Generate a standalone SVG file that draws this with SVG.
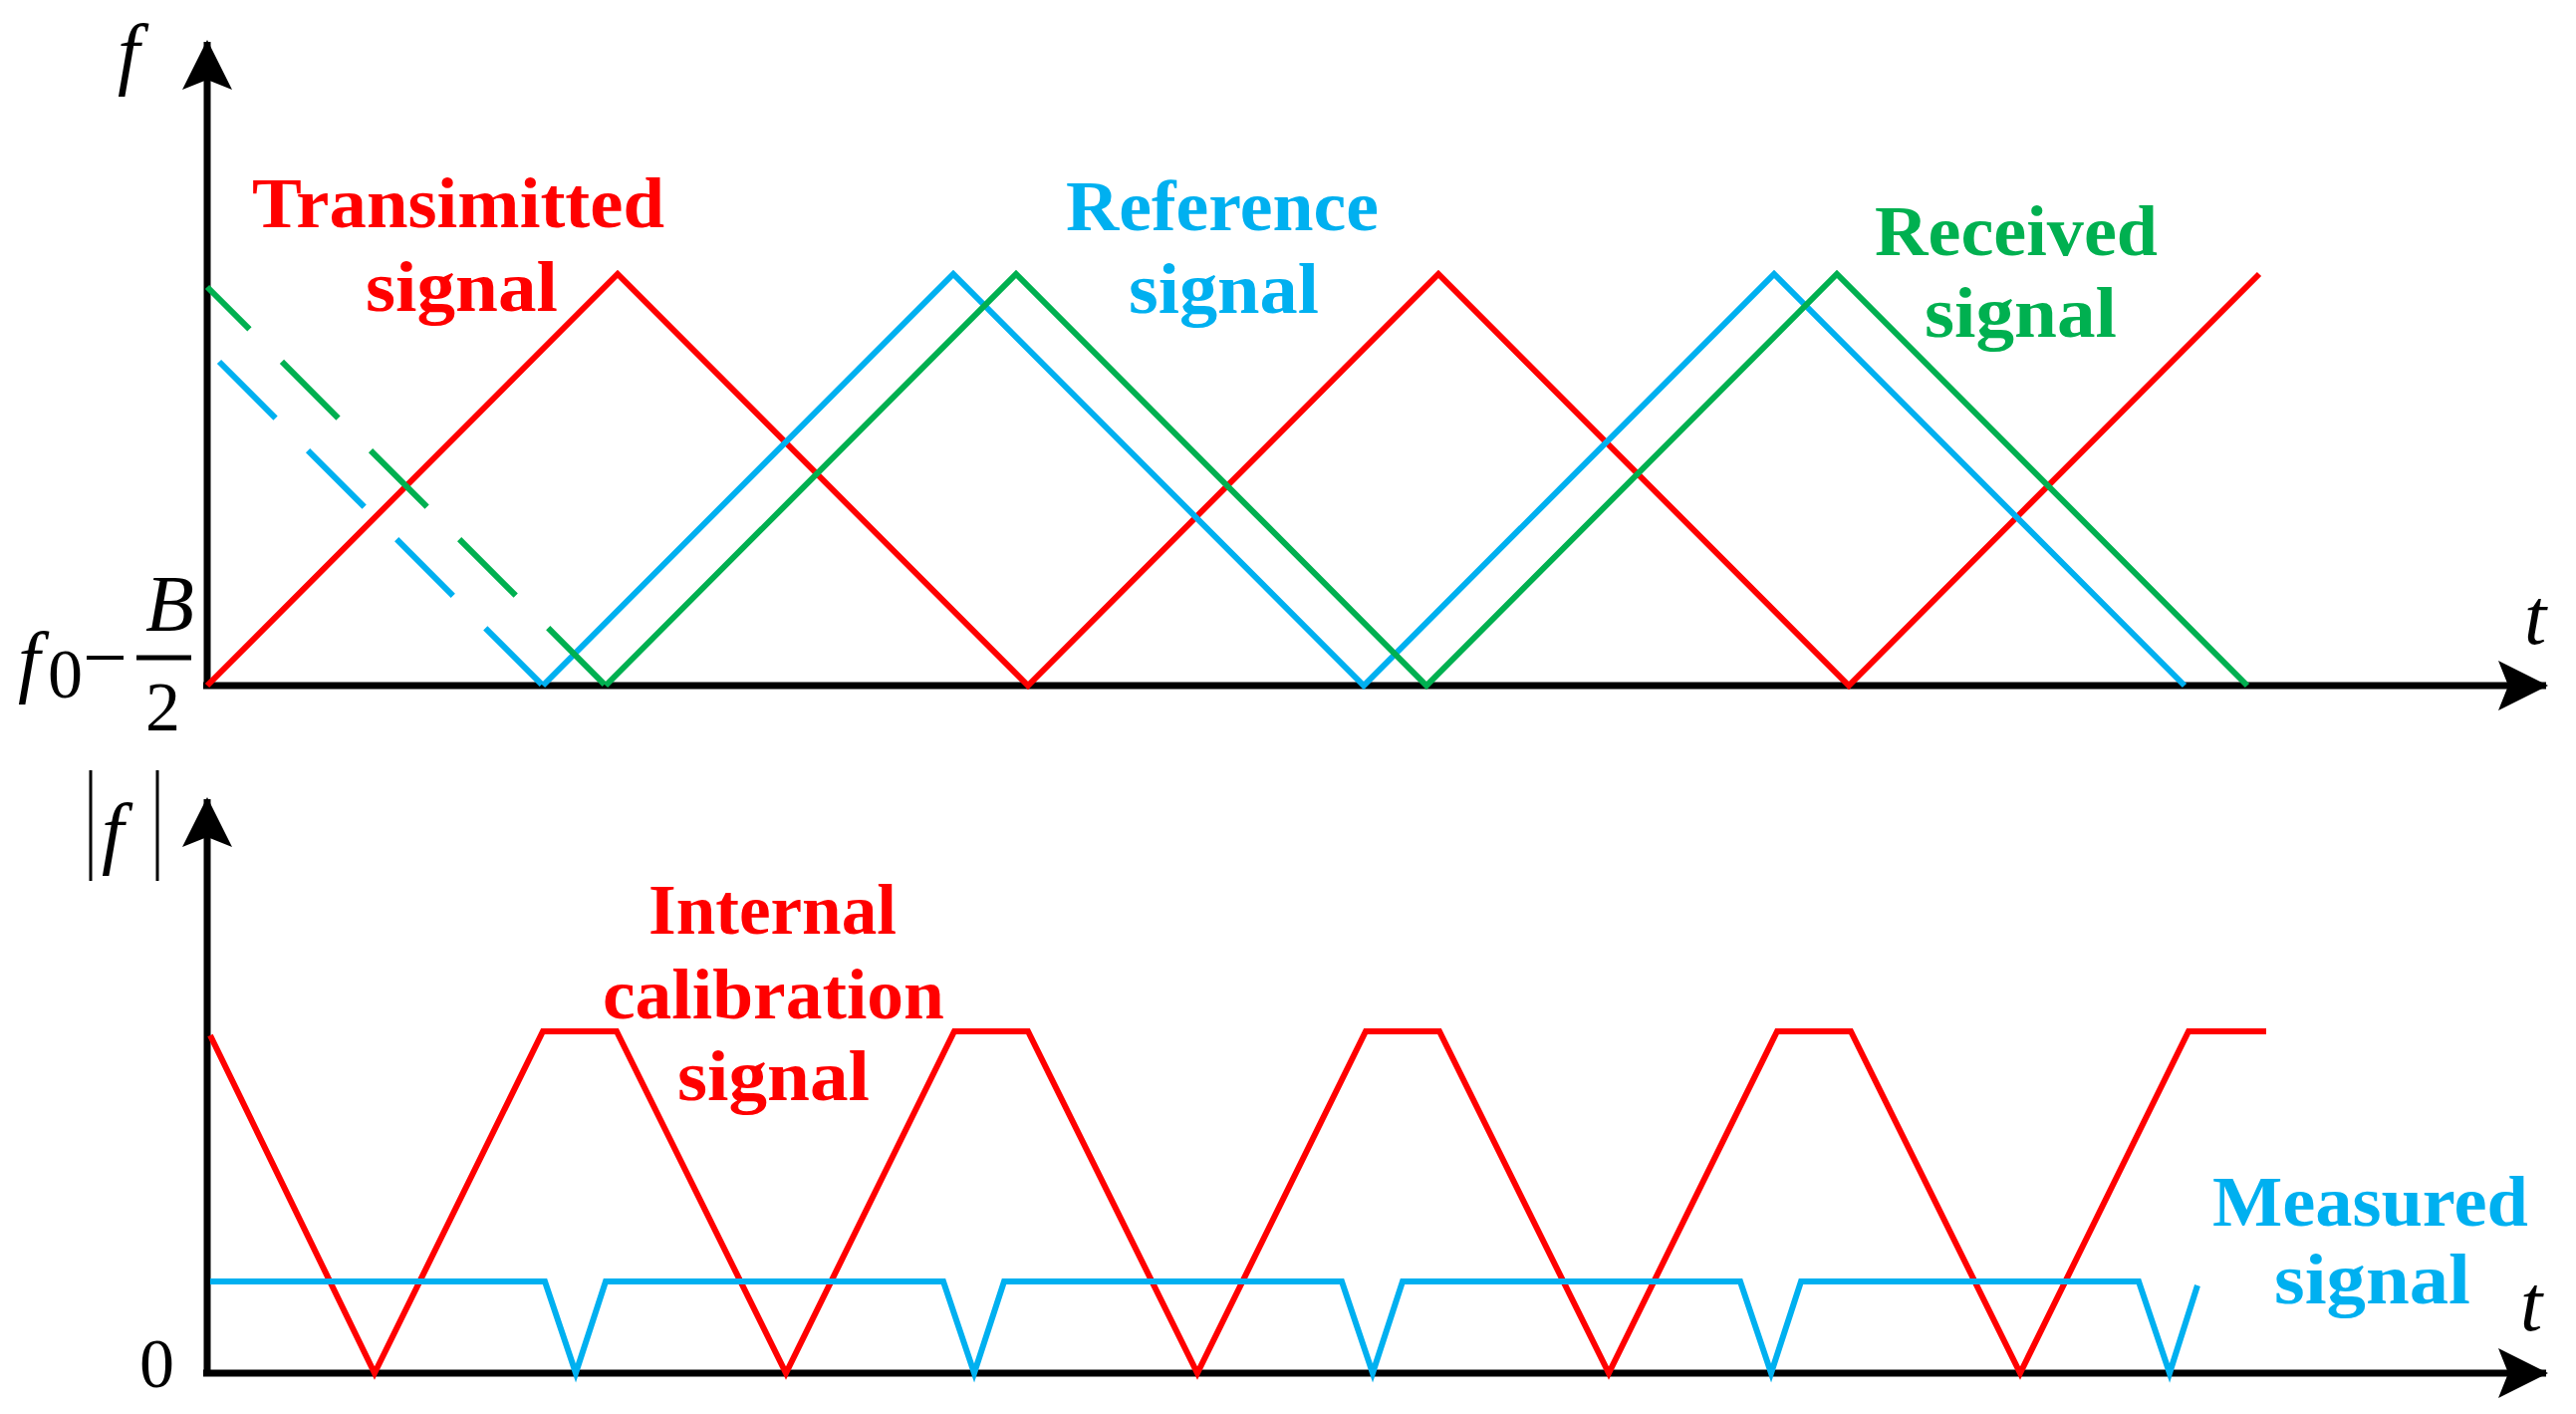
<svg xmlns="http://www.w3.org/2000/svg" width="2586" height="1419" viewBox="0 0 2586 1419">
<style>
.ax{stroke:#000;stroke-width:7;fill:none}
.s{fill:none;stroke-width:6;stroke-linejoin:miter}
.r{stroke:#ff0000}.b{stroke:#00b0f0}.g{stroke:#00b050}
.lbl{font-family:"Liberation Serif",serif;font-weight:bold;font-size:72px}
.m{font-family:"Liberation Serif",serif;font-style:italic;font-size:80px}
.n{font-family:"Liberation Serif",serif;font-size:70px}
</style>
<defs>
<marker id="ah" viewBox="0 0 50 50" refX="48" refY="25" markerWidth="50" markerHeight="50" markerUnits="userSpaceOnUse" orient="auto">
<path d="M0,0 L50,25 L0,50 L10,25 Z" fill="#000"/>
</marker>
</defs>
<g id="axes">
<line class="ax" x1="208" y1="690" x2="208" y2="42" marker-end="url(#ah)"/>
<line class="ax" x1="204" y1="688" x2="2556" y2="688" marker-end="url(#ah)"/>
<line class="ax" x1="208" y1="1381" x2="208" y2="802" marker-end="url(#ah)"/>
<line class="ax" x1="204" y1="1378" x2="2556" y2="1378" marker-end="url(#ah)"/>
</g>
<g id="connectors">
<polyline class="s r" points="208,688 620,275 1032,688 1444,275 1856,688 2268,275"/>
<line class="s b" x1="220" y1="363" x2="545" y2="688" stroke-dasharray="80 46"/>
<polyline class="s b" points="545,688 957,275 1369,688 1781,275 2193,688"/>
<line class="s g" x1="208" y1="288" x2="608" y2="688" stroke-dasharray="80 46" stroke-dashoffset="20"/>
<polyline class="s g" points="608,688 1020,275 1432,688 1844,275 2256,688"/>
<polyline class="s r" points="211,1039 376,1378 545,1035 619,1035 789,1378 958,1035 1032,1035 1202,1378 1371,1035 1445,1035 1615,1378 1784,1035 1858,1035 2028,1378 2197,1035 2275,1035"/>
<polyline class="s b" points="211,1286 547,1286 578,1378 608,1286 947,1286 978,1378 1008,1286 1347,1286 1378,1378 1408,1286 1747,1286 1778,1378 1808,1286 2147,1286 2178,1378 2206,1290"/>
</g>
<g id="labels">
<text class="lbl" fill="#ff0000" x="253" y="228" textLength="414" lengthAdjust="spacingAndGlyphs">Transimitted</text>
<text class="lbl" fill="#ff0000" x="367" y="312" textLength="193" lengthAdjust="spacingAndGlyphs">signal</text>
<text class="lbl" fill="#00b0f0" x="1070" y="231" textLength="314" lengthAdjust="spacingAndGlyphs">Reference</text>
<text class="lbl" fill="#00b0f0" x="1133" y="314" textLength="191" lengthAdjust="spacingAndGlyphs">signal</text>
<text class="lbl" fill="#00b050" x="1882" y="256" textLength="284" lengthAdjust="spacingAndGlyphs">Received</text>
<text class="lbl" fill="#00b050" x="1932" y="338" textLength="193" lengthAdjust="spacingAndGlyphs">signal</text>
<text class="lbl" fill="#ff0000" x="651" y="937" textLength="249" lengthAdjust="spacingAndGlyphs">Internal</text>
<text class="lbl" fill="#ff0000" x="605" y="1022" textLength="343" lengthAdjust="spacingAndGlyphs">calibration</text>
<text class="lbl" fill="#ff0000" x="680" y="1104" textLength="193" lengthAdjust="spacingAndGlyphs">signal</text>
<text class="lbl" fill="#00b0f0" x="2221" y="1230" textLength="317" lengthAdjust="spacingAndGlyphs">Measured</text>
<text class="lbl" fill="#00b0f0" x="2283" y="1308" textLength="197" lengthAdjust="spacingAndGlyphs">signal</text>
</g>
<g id="axis-labels">
<text class="m" x="118" y="80">f</text>
<text class="m" x="2534" y="646" font-size="64">t</text>
<text class="m" x="2530" y="1335" font-size="90">t</text>
<text class="m" x="18" y="690">f</text>
<text class="n" x="48" y="700" font-size="38">0</text>
<line x1="87" y1="660" x2="124" y2="660" stroke="#000" stroke-width="4"/>
<line x1="137" y1="660" x2="192" y2="660" stroke="#000" stroke-width="5"/>
<text class="m" x="146" y="633" font-size="74">B</text>
<text class="n" x="146" y="733">2</text>
<line x1="91" y1="773" x2="91" y2="884" stroke="#000" stroke-width="3"/>
<line x1="158" y1="773" x2="158" y2="884" stroke="#000" stroke-width="3"/>
<text class="m" x="102" y="862">f</text>
<text class="n" x="140" y="1392" font-size="72">0</text>
</g>
</svg>
